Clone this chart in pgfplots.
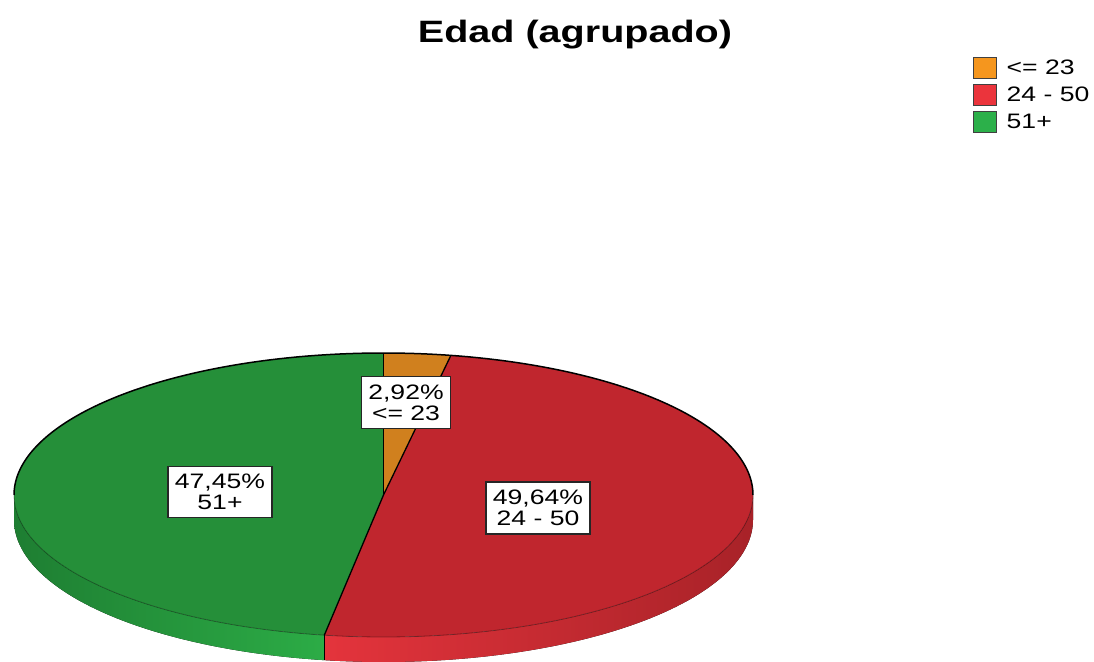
\documentclass[border=0pt]{standalone}
\usepackage{pgfplots}
\pgfplotsset{compat=1.18}
\usepgfplotslibrary{fillbetween}
\usepackage{fontspec}
\setmainfont{Liberation Sans}

\definecolor{orTop}{RGB}{208,128,30}
\definecolor{rdTop}{RGB}{192,38,46}
\definecolor{gnTop}{RGB}{37,143,57}
\definecolor{rdLight}{RGB}{228,52,60}
\definecolor{rdDark}{RGB}{168,34,40}
\definecolor{gnLight}{RGB}{44,172,70}
\definecolor{gnDark}{RGB}{30,126,50}
\definecolor{orLeg}{RGB}{245,150,30}
\definecolor{rdLeg}{RGB}{235,52,60}
\definecolor{gnLeg}{RGB}{44,176,74}

% percentages of the three groups
\def\pA{2.92}\def\pB{49.64}\def\pC{47.45}
\pgfmathsetmacro\tA{\pA*3.6}
\pgfmathsetmacro\tB{(\pA+\pB)*3.6}
\def\cx{383.5}\def\cy{166}\def\ra{369.5}\def\rb{142}\def\dz{25}
\newcommand\sx[1]{\scalebox{1.27}[1]{#1}}

\begin{document}
\begin{tikzpicture}
\begin{axis}[
  scale only axis, width=1094bp, height=661bp,
  xmin=0, xmax=1094, ymin=0, ymax=661,
  hide axis, clip=true,
  legend style={at={(rel axis cs:0.8894,0.9138)}, anchor=north west,
    draw=none, fill=none, font=\fontsize{21}{21}\selectfont,
    row sep=5bp, column sep=8bp, inner sep=0pt, nodes={inner sep=1.5bp}},
  legend cell align=left,
  legend image code/.code={\draw[#1] (0bp,-10.5bp) rectangle (23bp,10.5bp);},
]
\addlegendimage{fill=orLeg, draw=black!75, line width=1bp}
\addlegendentry{\sx{<= 23}}
\addlegendimage{fill=rdLeg, draw=black!75, line width=1bp}
\addlegendentry{\sx{24 - 50}}
\addlegendimage{fill=gnLeg, draw=black!75, line width=1bp}
\addlegendentry{\sx{51+}}

% side walls
\addplot[draw=none, name path=rA, domain=90:\tB, samples=80, forget plot] ({\cx+\ra*sin(x)},{\cy+\rb*cos(x)});
\addplot[draw=none, name path=rB, domain=90:\tB, samples=80, forget plot] ({\cx+\ra*sin(x)},{\cy-\dz+\rb*cos(x)});
\addplot[left color=rdLight, right color=rdDark, forget plot] fill between[of=rA and rB];
\addplot[draw=none, name path=gA, domain=\tB:270, samples=80, forget plot] ({\cx+\ra*sin(x)},{\cy+\rb*cos(x)});
\addplot[draw=none, name path=gB, domain=\tB:270, samples=80, forget plot] ({\cx+\ra*sin(x)},{\cy-\dz+\rb*cos(x)});
\addplot[left color=gnDark, right color=gnLight, forget plot] fill between[of=gA and gB];

% top face slices
\addplot[fill=orTop, draw=none, domain=0:\tA, samples=20, forget plot] ({\cx+\ra*sin(x)},{\cy+\rb*cos(x)}) -- (\cx,\cy) -- cycle;
\addplot[fill=rdTop, draw=none, domain=\tA:\tB, samples=160, forget plot] ({\cx+\ra*sin(x)},{\cy+\rb*cos(x)}) -- (\cx,\cy) -- cycle;
\addplot[fill=gnTop, draw=none, domain=\tB:360, samples=160, forget plot] ({\cx+\ra*sin(x)},{\cy+\rb*cos(x)}) -- (\cx,\cy) -- cycle;

% outlines
\addplot[black, line width=1.5bp, domain=-90:90, samples=160, forget plot] ({\cx+\ra*sin(x)},{\cy+\rb*cos(x)});
\addplot[black, opacity=0.35, line width=0.8bp, domain=90:270, samples=160, forget plot] ({\cx+\ra*sin(x)},{\cy+\rb*cos(x)});
\addplot[black, line width=1.3bp, domain=0:1, samples=2, forget plot] ({\cx},{\cy+x*\rb});
\addplot[black, line width=1.3bp, domain=0:1, samples=2, forget plot] ({\cx+x*\ra*sin(\tA)},{\cy+x*\rb*cos(\tA)});
\addplot[black, line width=1.3bp, domain=0:1, samples=2, forget plot] ({\cx+x*\ra*sin(\tB)},{\cy+x*\rb*cos(\tB)});
\addplot[black, line width=1.3bp, domain=0:1, samples=2, forget plot] ({\cx+\ra*sin(\tB)},{\cy+\rb*cos(\tB)-x*\dz});

% labels
\tikzset{lbl/.style={draw=black!85, fill=white, line width=1.3bp, align=center,
  font=\fontsize{21}{21}\selectfont, inner xsep=7bp, inner ysep=8bp}}
\node[lbl] at (406,258.5) {\sx{2,92\%}\\\sx{<= 23}};
\node[lbl] at (220,169) {\sx{47,45\%}\\\sx{51+}};
\node[lbl] at (538,153) {\sx{49,64\%}\\\sx{24 - 50}};

% title
\node[anchor=base, font=\bfseries\fontsize{31}{31}\selectfont] at (575,618) {\scalebox{1.28}[1]{Edad (agrupado)}};
\end{axis}
\end{tikzpicture}
\end{document}
